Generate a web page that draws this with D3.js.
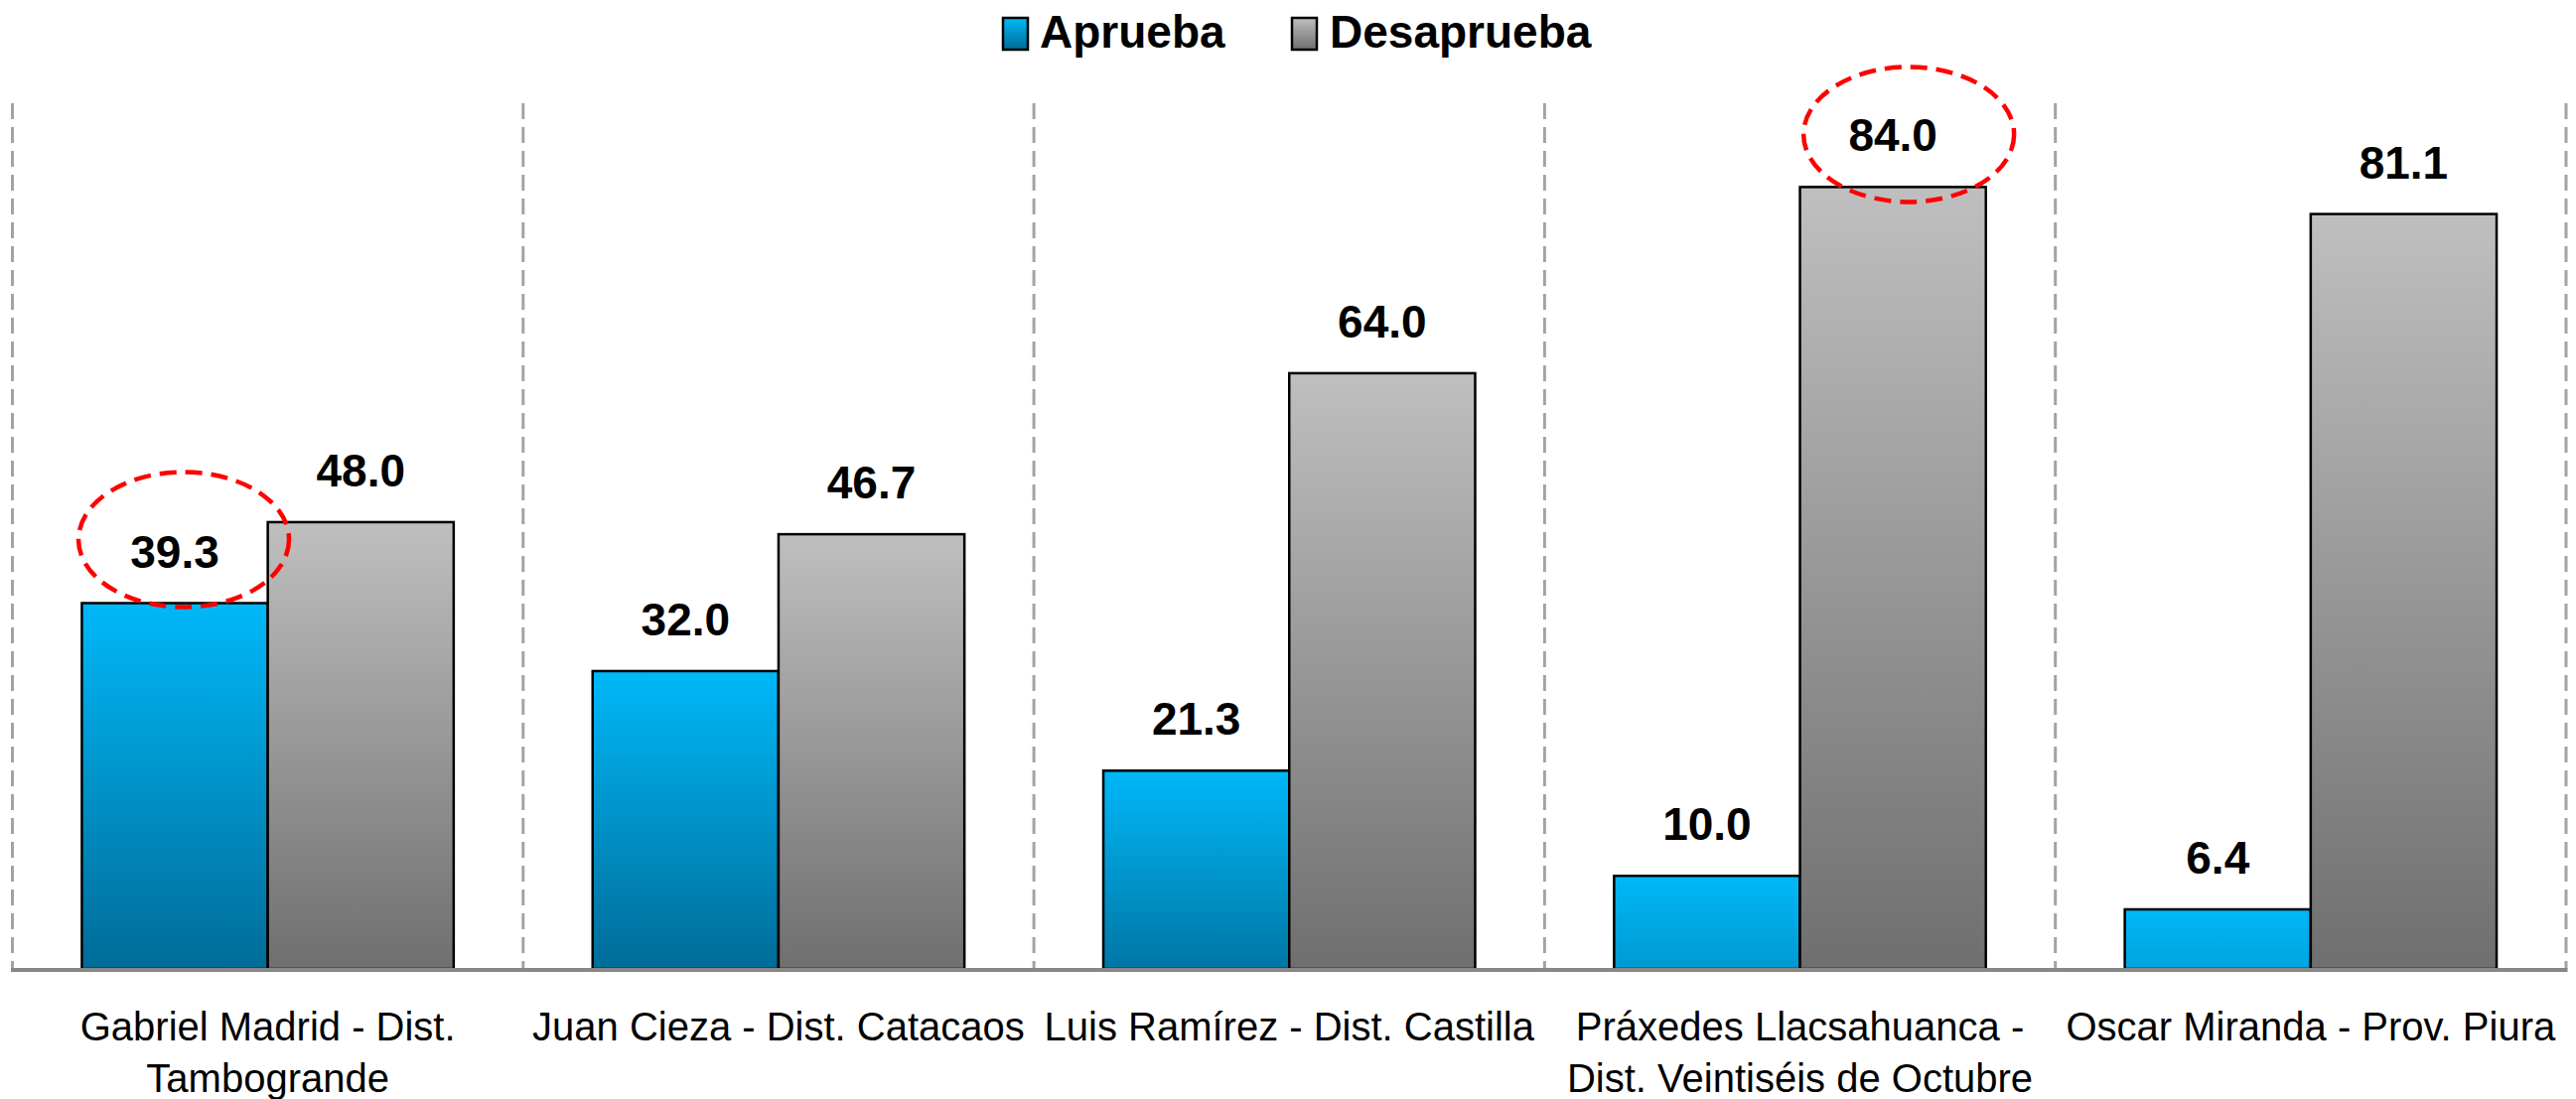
<!DOCTYPE html>
<html>
<head>
<meta charset="utf-8">
<script src="https://cdn.jsdelivr.net/npm/d3@7"></script>
<style>
  html, body { margin: 0; padding: 0; background: #ffffff; }
  svg { display: block; }
</style>
</head>
<body>
<script>
// ---------- data ----------
const categories = [
  "Gabriel Madrid - Dist.\nTambogrande",
  "Juan Cieza - Dist. Catacaos",
  "Luis Ramírez - Dist. Castilla",
  "Práxedes Llacsahuanca -\nDist. Veintiséis de Octubre",
  "Oscar Miranda - Prov. Piura"
];
const seriesNames = ["Aprueba", "Desaprueba"];
const aprueba = [39.3, 32.0, 21.3, 10.0, 6.4];
const desaprueba = [48.0, 46.7, 64.0, 84.0, 81.1];
const highlighted = [ { cat: 0, series: 0 }, { cat: 3, series: 1 } ];

// ---------- layout / style ----------
const W = 2594, H = 1107;
const plot = { left: 12.5, right: 2584, top: 104, bottom: 976 };
const seriesValues = [aprueba, desaprueba];
const colors = {
  Aprueba:    { top: "#00B8F8", bottom: "#006C98" },
  Desaprueba: { top: "#BFBFBF", bottom: "#6F6F6F" }
};
const ellipseOffsets = [ { dx: 9, dy: -28 }, { dx: 16, dy: -17 } ];

const svg = d3.select("body").append("svg")
  .attr("width", W).attr("height", H)
  .attr("viewBox", `0 0 ${W} ${H}`);

const defs = svg.append("defs");

const x = d3.scaleBand().domain(d3.range(categories.length))
  .range([plot.left, plot.right]).padding(0);
const y = d3.scaleLinear().domain([0, 93]).range([plot.bottom, plot.top]);
const barW = x.bandwidth() * 0.364;
const xs = d3.scaleBand().domain(seriesNames).range([-barW, barW]).padding(0);

// dashed separators
const sepX = categories.map((d, i) => x(i)).concat([plot.right]);
svg.append("g").selectAll("line").data(sepX).join("line")
  .attr("x1", d => d).attr("x2", d => d)
  .attr("y1", plot.top).attr("y2", plot.bottom)
  .attr("stroke", "#A3A3A3").attr("stroke-width", 3)
  .attr("stroke-dasharray", "16 8");

// bars
const bars = [];
categories.forEach((c, i) => {
  seriesNames.forEach((s, j) => {
    bars.push({ cat: i, series: j, name: s, value: seriesValues[j][i] });
  });
});

bars.forEach((b, k) => {
  const h = y(0) - y(b.value);
  const col = colors[b.name];
  const t = b.series === 0 ? Math.min(1, h / 230) : 1;
  const bottomCol = d3.interpolateRgb(col.top, col.bottom)(t);
  const g = defs.append("linearGradient").attr("id", "g" + k)
    .attr("x1", 0).attr("y1", 0).attr("x2", 0).attr("y2", 1);
  g.append("stop").attr("offset", "0%").attr("stop-color", col.top);
  g.append("stop").attr("offset", "100%").attr("stop-color", bottomCol);
});

const cx = i => x(i) + x.bandwidth() / 2;

svg.append("g").selectAll("rect").data(bars).join("rect")
  .attr("x", d => cx(d.cat) + xs(d.name))
  .attr("y", d => y(d.value))
  .attr("width", xs.bandwidth())
  .attr("height", d => y(0) - y(d.value))
  .attr("fill", (d, k) => `url(#g${k})`)
  .attr("stroke", "#000").attr("stroke-width", 2.5);

// baseline
svg.append("line")
  .attr("x1", plot.left - 1.5).attr("x2", plot.right + 1.5)
  .attr("y1", plot.bottom + 1).attr("y2", plot.bottom + 1)
  .attr("stroke", "#878787").attr("stroke-width", 4);

// value labels
const fmt = d3.format(".1f");
svg.append("g").selectAll("text").data(bars).join("text")
  .attr("x", d => cx(d.cat) + xs(d.name) + xs.bandwidth() / 2)
  .attr("y", d => y(d.value) - 36)
  .attr("text-anchor", "middle")
  .attr("font-family", "'Liberation Sans', Arial, sans-serif")
  .attr("font-weight", "bold").attr("font-size", 46)
  .attr("fill", "#000")
  .text(d => fmt(d.value));

// highlight ellipses
svg.append("g").selectAll("ellipse").data(highlighted).join("ellipse")
  .attr("cx", (d, i) => cx(d.cat) + xs(seriesNames[d.series]) + xs.bandwidth() / 2 + ellipseOffsets[i].dx)
  .attr("cy", (d, i) => y(seriesValues[d.series][d.cat]) - 36 + ellipseOffsets[i].dy)
  .attr("rx", 106).attr("ry", 68)
  .attr("fill", "none").attr("stroke", "#FF0000")
  .attr("stroke-width", 4.5).attr("stroke-dasharray", "17 9");

// category labels
const catG = svg.append("g");
categories.forEach((c, i) => {
  const t = catG.append("text")
    .attr("x", cx(i)).attr("y", plot.bottom + 72)
    .attr("text-anchor", "middle")
    .attr("font-family", "'Liberation Sans', Arial, sans-serif")
    .attr("font-size", 40).attr("fill", "#000");
  c.split("\n").forEach((line, li) => {
    t.append("tspan").attr("x", cx(i)).attr("dy", li === 0 ? 0 : 52).text(line);
  });
});

// legend
const legendItems = [
  { name: "Aprueba", sx: 1010, tx: 1047 },
  { name: "Desaprueba", sx: 1301, tx: 1339 }
];
legendItems.forEach((it, k) => {
  const col = colors[it.name];
  const g = defs.append("linearGradient").attr("id", "lg" + k)
    .attr("x1", 0).attr("y1", 0).attr("x2", 0).attr("y2", 1);
  g.append("stop").attr("offset", "0%").attr("stop-color", col.top);
  g.append("stop").attr("offset", "100%").attr("stop-color", col.bottom);
  svg.append("rect").attr("x", it.sx).attr("y", 18).attr("width", 25).attr("height", 32)
    .attr("fill", `url(#lg${k})`).attr("stroke", "#000").attr("stroke-width", 2.5);
  svg.append("text").attr("x", it.tx).attr("y", 48)
    .attr("font-family", "'Liberation Sans', Arial, sans-serif")
    .attr("font-weight", "bold").attr("font-size", 46).attr("fill", "#000")
    .text(it.name);
});
</script>
</body>
</html>
